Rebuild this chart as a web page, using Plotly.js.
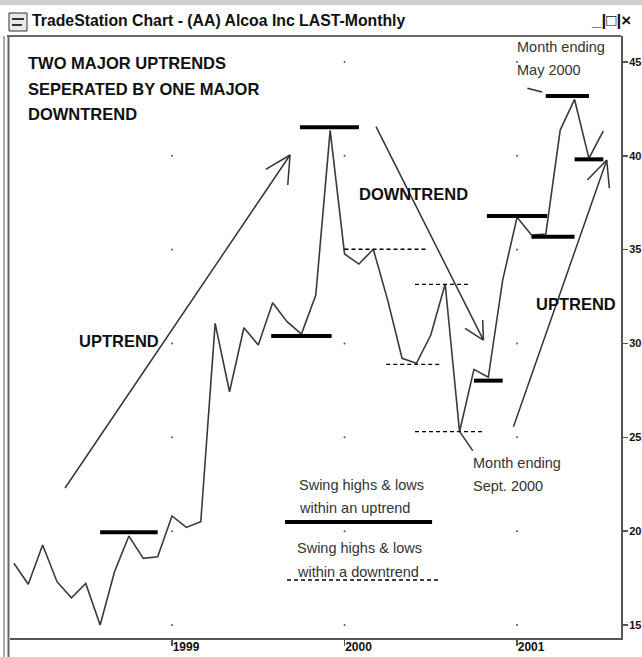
<!DOCTYPE html>
<html><head><meta charset="utf-8">
<script src="https://cdn.plot.ly/plotly-3.0.1.min.js"></script>
<style>html,body{margin:0;padding:0;background:#fff;}#chart{width:642px;height:657px;}</style>
</head><body><div id="chart"></div>
<script>
// ---- DATA (monthly closes, month index 0 = Jan 1998) ----
const monthIdx = [1,2,3,4,5,6,7,8,9,10,11,12,13,14,15,16,17,18,19,20,21,22,23,24,25,26,27,28,29,30,31,32,33,34,35,36,37,38,39,40,41,42];
const closes = [18.29,17.17,19.26,17.31,16.45,17.22,15.0,17.84,19.74,18.55,18.64,20.81,20.2,20.5,
  31.07,27.43,30.84,29.92,32.17,31.16,30.5,32.58,41.35,34.77,34.23,35.02,32.31,29.21,28.94,30.45,
  33.17,25.3,28.62,28.2,33.38,36.72,35.78,35.83,41.37,43.0,39.86,41.33];
const yearTicks = [12,24,36];
const yearLabels = ['1999','2000','2001'];
const priceTicks = [15,20,25,30,35,40,45];
const priceTickLabels = ['15','20','25','30','35','40','45'];

// swing highs & lows within uptrends (solid) and downtrend (dashed)
const upSwingStart = [7, 18.9, 20.9, 33, 33.9, 37, 38, 40];
const upSwingEnd   = [11, 23.1, 25.0, 35, 38.1, 40, 41, 42];
const upSwingLevel = [19.95, 30.4, 41.52, 28.02, 36.79, 35.69, 43.18, 39.81];
const downSwingStart = [24, 28.9, 26.9, 28.9];
const downSwingEnd   = [29.7, 32.7, 30.6, 33.7];
const downSwingLevel = [35.02, 33.15, 28.89, 25.3];
// legend samples
const legendSolid = {x0:19.86, x1:30.09, y:20.49};
const legendDashed = {x0:20.0, x1:30.64, y:17.4};

// trend arrows: tail, tip, two barbs (month, price)
const arrows = [
  {tail:[4.56,22.3],  tip:[20.21,40.04], b1:[18.52,39.28], b2:[20.05,38.44]},
  {tail:[26.19,41.55],tip:[33.66,30.18], b1:[32.38,30.81], b2:[33.61,31.25]},
  {tail:[35.75,25.57],tip:[42.24,39.77], b1:[40.89,38.71], b2:[42.42,38.27]}
];
const callouts = [
  {from:[36.72,43.6], to:[37.74,43.4]},
  {from:[32.03,25.28], to:[32.92,24.29]}
];

// ---- LAYOUT HELPERS ----
const L=10, R=621, T=36, B=638;
const px = x => (x-L)/(R-L);
const py = y => (B-y)/(B-T);
const FONT = 'Liberation Sans, Arial, sans-serif';

const texts = [
  {t:'TWO MAJOR UPTRENDS', x:27, y:63, s:16.5, b:true},
  {t:'SEPERATED BY ONE MAJOR', x:27, y:89, s:16.5, b:true},
  {t:'DOWNTREND', x:27, y:114, s:16.5, b:true},
  {t:'DOWNTREND', x:358, y:194, s:16.5, b:true},
  {t:'UPTREND', x:78, y:341, s:16.5, b:true},
  {t:'UPTREND', x:535, y:304, s:16.5, b:true},
  {t:'Month ending', x:516, y:47, s:14.5, b:false},
  {t:'May 2000', x:516, y:70, s:14.5, b:false},
  {t:'Month ending', x:472, y:463, s:14.5, b:false},
  {t:'Sept. 2000', x:472, y:486, s:14.5, b:false},
  {t:'Swing highs &amp; lows', x:298, y:485, s:14.5, b:false},
  {t:'within an uptrend', x:298, y:508, s:14.5, b:false},
  {t:'Swing highs &amp; lows', x:296, y:548, s:14.5, b:false},
  {t:'within a downtrend', x:296, y:572, s:14.5, b:false},
  {t:'TradeStation Chart - (AA) Alcoa Inc LAST-Monthly', x:31, y:21, s:15.8, b:true},
  {t:'_|□|×', x:590, y:21, s:17, b:true}
];

const annotations = texts.map(o => ({
  text:o.t, xref:'paper', yref:'paper', x:px(o.x), y:py(o.y),
  xanchor:'left', yanchor:'middle', showarrow:false, borderpad:0,
  font:{family:FONT, size:o.s, color:o.b?'#111':'#333', weight:o.b?'bold':'normal'}
}));

const shapes = [];
// frame
shapes.push({type:'rect', xref:'paper', yref:'paper', x0:px(0), x1:px(642), y0:py(0), y1:py(5), fillcolor:'#cfcfcf', line:{width:0}, layer:'below'});
shapes.push({type:'line', xref:'paper', yref:'paper', x0:px(7), x1:px(621), y0:py(36), y1:py(36), line:{color:'#666', width:2}});
shapes.push({type:'line', xref:'paper', yref:'paper', x0:px(4), x1:px(4), y0:py(36), y1:py(657), line:{color:'#aaa', width:2}});
shapes.push({type:'line', xref:'paper', yref:'paper', x0:px(8.5), x1:px(8.5), y0:py(36), y1:py(657), line:{color:'#666', width:2}});
// icon
shapes.push({type:'rect', xref:'paper', yref:'paper', x0:px(9), x1:px(27), y0:py(13), y1:py(31), fillcolor:'#e8e8e8', line:{color:'#333', width:1}});
shapes.push({type:'line', xref:'paper', yref:'paper', x0:px(12), x1:px(24), y0:py(19), y1:py(19), line:{color:'#333', width:2}});
shapes.push({type:'line', xref:'paper', yref:'paper', x0:px(12), x1:px(22), y0:py(25), y1:py(25), line:{color:'#333', width:2}});

// swing lines
for (let i=0;i<upSwingLevel.length;i++) {
  shapes.push({type:'line', xref:'x', yref:'y', x0:upSwingStart[i], x1:upSwingEnd[i], y0:upSwingLevel[i], y1:upSwingLevel[i], line:{color:'#000', width:4}});
}
for (let i=0;i<downSwingLevel.length;i++) {
  shapes.push({type:'line', xref:'x', yref:'y', x0:downSwingStart[i], x1:downSwingEnd[i], y0:downSwingLevel[i], y1:downSwingLevel[i], line:{color:'#000', width:1.3, dash:'4px,3px'}});
}
shapes.push({type:'line', xref:'x', yref:'y', x0:legendSolid.x0, x1:legendSolid.x1, y0:legendSolid.y, y1:legendSolid.y, line:{color:'#000', width:4}});
shapes.push({type:'line', xref:'x', yref:'y', x0:legendDashed.x0, x1:legendDashed.x1, y0:legendDashed.y, y1:legendDashed.y, line:{color:'#000', width:1.3, dash:'4px,3px'}});

// arrows
arrows.forEach(a => {
  const st = {color:'#333', width:1.5};
  shapes.push({type:'line', xref:'x', yref:'y', x0:a.tail[0], y0:a.tail[1], x1:a.tip[0], y1:a.tip[1], line:st});
  shapes.push({type:'line', xref:'x', yref:'y', x0:a.b1[0], y0:a.b1[1], x1:a.tip[0], y1:a.tip[1], line:st});
  shapes.push({type:'line', xref:'x', yref:'y', x0:a.b2[0], y0:a.b2[1], x1:a.tip[0], y1:a.tip[1], line:st});
});
callouts.forEach(c => {
  shapes.push({type:'line', xref:'x', yref:'y', x0:c.from[0], y0:c.from[1], x1:c.to[0], y1:c.to[1], line:{color:'#333', width:1.5}});
});

// grid dots at tick intersections
const gx=[], gy=[];
yearTicks.forEach(x => priceTicks.forEach(y => { gx.push(x); gy.push(y); }));

const traces = [
  {x:gx, y:gy, mode:'markers', marker:{size:2, color:'#555'}, hoverinfo:'skip', showlegend:false},
  {x:monthIdx, y:closes, mode:'lines', line:{color:'#3a3a3a', width:1.6}, showlegend:false}
];

const layout = {
  width:642, height:657,
  margin:{l:L, r:642-R, t:T, b:657-B, pad:0},
  paper_bgcolor:'#fff', plot_bgcolor:'#fff',
  showlegend:false,
  xaxis:{range:[0.73,43.23], showgrid:false, zeroline:false, showline:true, linecolor:'#555', linewidth:2,
    ticks:'outside', ticklen:6, tickwidth:1.5, tickcolor:'#555', tickvals:yearTicks, ticktext:yearLabels,
    ticklabelshift:14, ticklabelstandoff:-9,
    tickfont:{family:FONT, size:12, color:'#111', weight:'bold'}, fixedrange:true},
  yaxis:{range:[14.31,46.38], side:'right', showgrid:false, zeroline:false, showline:true, linecolor:'#555', linewidth:2,
    ticks:'outside', ticklen:5, tickwidth:1.5, tickcolor:'#555', tickvals:priceTicks, ticktext:priceTickLabels,
    ticklabelstandoff:-1,
    tickfont:{family:FONT, size:11, color:'#111', weight:'bold'}, fixedrange:true},
  shapes:shapes,
  annotations:annotations
};

Plotly.newPlot('chart', traces, layout, {staticPlot:true, displayModeBar:false});
</script>
</body></html>
